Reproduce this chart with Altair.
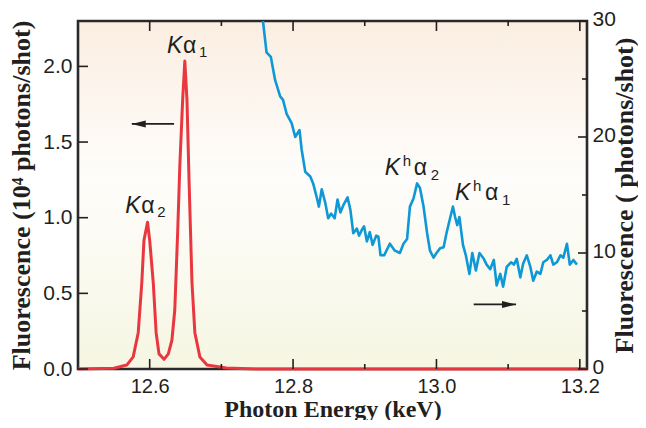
import altair as alt
import pandas as pd

# ---------------- data ----------------
RED_E = [12.50, 12.55, 12.568, 12.577, 12.584, 12.589, 12.592, 12.597, 12.600, 12.605,
         12.609, 12.613, 12.620, 12.626, 12.631, 12.635, 12.639, 12.642, 12.646, 12.649,
         12.652, 12.655, 12.659, 12.663, 12.670, 12.680, 12.707, 12.75, 13.21]
RED_F = [0.0, 0.005, 0.026, 0.08, 0.24, 0.57, 0.85, 0.97, 0.85, 0.57,
         0.24, 0.10, 0.064, 0.10, 0.19, 0.39, 0.90, 1.34, 1.78, 2.035,
         1.78, 1.23, 0.57, 0.24, 0.08, 0.026, 0.007, 0.0, 0.0]

BLUE_E = [12.758, 12.763, 12.769, 12.775, 12.782, 12.786, 12.791, 12.798, 12.803, 12.809,
          12.812, 12.817, 12.824, 12.828, 12.833, 12.836, 12.840, 12.845, 12.849, 12.853,
          12.858, 12.862, 12.866, 12.870, 12.876, 12.880, 12.884, 12.889, 12.892, 12.896,
          12.899, 12.903, 12.907, 12.911, 12.916, 12.919, 12.922, 12.927, 12.935, 12.942,
          12.949, 12.954, 12.959, 12.963, 12.968, 12.973, 12.977, 12.982, 12.987, 12.991,
          12.996, 13.000, 13.005, 13.010, 13.014, 13.019, 13.023, 13.026, 13.029, 13.032,
          13.037, 13.041, 13.046, 13.050, 13.055, 13.060, 13.066, 13.070, 13.075, 13.080,
          13.084, 13.089, 13.093, 13.098, 13.104, 13.108, 13.112, 13.117, 13.121, 13.126,
          13.131, 13.135, 13.140, 13.145, 13.149, 13.154, 13.159, 13.163, 13.168, 13.173,
          13.177, 13.182, 13.186, 13.191, 13.196]
BLUE_F = [30.0, 27.3, 26.9, 24.9, 23.5, 23.2, 22.0, 21.2, 20.0, 20.6,
          18.9, 17.0, 16.6, 16.0, 14.8, 14.0, 15.5, 14.3, 13.0, 13.4,
          13.0, 14.6, 13.5, 14.1, 14.8, 13.7, 11.7, 12.1, 11.5, 12.0,
          12.3, 11.0, 11.8, 10.7, 11.5, 11.4, 9.8, 9.8, 10.8, 10.2,
          10.0, 10.8, 11.2, 14.0, 14.7, 16.0, 15.6, 14.0, 11.7, 10.2,
          9.6, 10.0, 10.4, 10.5, 11.7, 13.0, 14.0, 13.1, 12.4, 13.1,
          10.7, 9.8, 8.2, 10.0, 8.5, 10.0, 9.5, 9.0, 8.6, 9.4,
          7.2, 8.2, 7.1, 8.8, 9.2, 9.0, 9.5, 7.9, 9.1, 9.8,
          8.8, 7.6, 8.4, 8.2, 9.2, 9.4, 9.8, 9.0, 9.2, 9.8,
          9.6, 10.8, 9.0, 9.4, 9.0]

X_DOMAIN = [12.5, 13.21]
YL_DOMAIN = [0, 2.3]
YR_DOMAIN = [0, 30]
X_LABELS = [12.6, 12.8, 13.0, 13.2]
X_MINOR = [12.7, 12.9, 13.1]
YL_TICKS = [0.0, 0.5, 1.0, 1.5, 2.0]
YR_LABELS = [0, 10, 20, 30]
YR_MINOR = [5, 15, 25]

# annotation anchors (energy, value)
KA1_POS = (12.624, 2.09)
KA2_POS = (12.566, 1.03)
KHA2_POS = (12.928, 16.7)
KHA1_POS = (13.026, 14.56)
ARROW_L = (12.634, 12.575, 1.62)   # from, to (tip), y (left units)
ARROW_R = (13.052, 13.111, 5.57)   # from, to (tip), y (right units)

# ---------------- style ----------------
W, H = 509, 348
INK = "#231f20"
RED = "#e9373f"
BLUE = "#0f98d6"
SANS = "Liberation Sans"
SERIF = "Liberation Serif"

xs = alt.Scale(domain=X_DOMAIN, nice=False, zero=False)
yls = alt.Scale(domain=YL_DOMAIN, nice=False, zero=False)
yrs = alt.Scale(domain=YR_DOMAIN, nice=False, zero=False)

X_AXIS = alt.Axis(
    orient="bottom", values=X_LABELS, format=".1f", ticks=False, domain=False, grid=False,
    labelFont=SANS, labelFontSize=20, labelColor=INK, labelPadding=7,
    title="Photon Energy (keV)", titleFont=SERIF, titleFontSize=24, titleFontWeight="bold",
    titleColor=INK, titleBaseline="alphabetic", titleX=W / 2, titleY=47)
YL_AXIS = alt.Axis(
    orient="left", values=YL_TICKS, format=".1f", ticks=False, domain=False, grid=False,
    labelFont=SANS, labelFontSize=21, labelColor=INK, labelPadding=6,
    title="Fluorescence (10⁴ photons/shot)", titleFont=SERIF, titleFontSize=26,
    titleFontWeight="bold", titleColor=INK, titlePadding=8)
YR_AXIS = alt.Axis(
    orient="right", values=YR_LABELS, format="d", ticks=False, domain=False, grid=False,
    labelFont=SANS, labelFontSize=21, labelColor=INK, labelPadding=5, labelOffset=-2,
    title="Fluorescence ( photons/shot)", titleFont=SERIF, titleFontSize=26,
    titleFontWeight="bold", titleColor=INK, titleAngle=270, titleBaseline="alphabetic",
    titleX=45, titleY=H / 2)


def X(field):
    return alt.X(field, scale=xs, axis=X_AXIS)


red_df = pd.DataFrame({"e": RED_E, "f": RED_F})
blue_df = pd.DataFrame({"e": BLUE_E, "f": BLUE_F})

bg = alt.Chart(pd.DataFrame({"a": [0]})).mark_rect(
    color=alt.Gradient(
        gradient="linear",
        stops=[alt.GradientStop(color="#fbeee1", offset=0),
               alt.GradientStop(color="#fefdfb", offset=0.45),
               alt.GradientStop(color="#f6f6e3", offset=1)],
        x1=0, x2=0, y1=0, y2=1),
).encode(x=alt.value(0), x2=alt.value(W), y=alt.value(0), y2=alt.value(H))

frame = alt.Chart(pd.DataFrame({"a": [0]})).mark_rect(
    filled=False, stroke="#2a2a2a", strokeWidth=2.6
).encode(x=alt.value(0), x2=alt.value(W), y=alt.value(0), y2=alt.value(H))

red = alt.Chart(red_df).mark_line(color=RED, strokeWidth=3, strokeJoin="round").encode(
    x=X("e:Q"), y=alt.Y("f:Q", scale=yls, axis=YL_AXIS), order="e:Q")

blue = alt.Chart(blue_df).mark_line(color=BLUE, strokeWidth=2.6, strokeJoin="round").encode(
    x=X("e:Q"), y=alt.Y("f:Q", scale=yrs, axis=YR_AXIS), order="e:Q")


def xticks(vals, length):
    d = pd.DataFrame({"v": vals})
    bottom = alt.Chart(d).mark_rule(color=INK, strokeWidth=1.6).encode(
        x=X("v:Q"), y=alt.value(H), y2=alt.value(H - length))
    top = alt.Chart(d).mark_rule(color=INK, strokeWidth=1.6).encode(
        x=X("v:Q"), y=alt.value(0), y2=alt.value(length))
    return [bottom, top]


def yticks(vals, scale, axis, length, right=False):
    d = pd.DataFrame({"v": vals})
    x0, x1 = (W, W - length) if right else (0, length)
    return alt.Chart(d).mark_rule(color=INK, strokeWidth=1.6).encode(
        y=alt.Y("v:Q", scale=scale, axis=axis), x=alt.value(x0), x2=alt.value(x1))


def label(pos, scale, axis, pieces):
    d = pd.DataFrame({"e": [pos[0]], "f": [pos[1]]})
    out = []
    for text, dx, dy, size, style in pieces:
        out.append(alt.Chart(d).mark_text(
            text=text, dx=dx, dy=dy, fontSize=size, fontStyle=style, font=SANS,
            align="left", baseline="alphabetic", color=INK,
        ).encode(x=X("e:Q"), y=alt.Y("f:Q", scale=scale, axis=axis)))
    return out


KA_PIECES_1 = [("K", 0, 0, 23, "italic"), ("α", 16, 0, 23, "normal"), ("1", 32, 4, 15, "normal")]
KA_PIECES_2 = [("K", 0, 0, 23, "italic"), ("α", 16, 0, 23, "normal"), ("2", 32, 4, 15, "normal")]
KH_PIECES_2 = [("K", 0, 0, 23, "italic"), ("h", 18, -9, 15, "normal"),
               ("α", 29, 0, 23, "normal"), ("2", 46, 5, 15, "normal")]
KH_PIECES_1 = [("K", 0, 0, 23, "italic"), ("h", 18, -9, 15, "normal"),
               ("α", 30, 0, 23, "normal"), ("1", 47, 5, 15, "normal")]


def arrow(spec, scale, axis, head_path):
    d = pd.DataFrame({"a": [spec[0]], "b": [spec[1]], "y": [spec[2]]})
    shaft = alt.Chart(d).mark_rule(color=INK, strokeWidth=1.8).encode(
        x=X("a:Q"), x2="b:Q", y=alt.Y("y:Q", scale=scale, axis=axis))
    head = alt.Chart(d).mark_point(shape=head_path, filled=True, size=196, color=INK,
                                   opacity=1, strokeWidth=0).encode(
        x=X("b:Q"), y=alt.Y("y:Q", scale=scale, axis=axis))
    return [shaft, head]


left_layers = [red]
left_layers += xticks(X_LABELS, 10) + xticks(X_MINOR, 5)
left_layers += [yticks(YL_TICKS, yls, YL_AXIS, 10)]
left_layers += label(KA1_POS, yls, YL_AXIS, KA_PIECES_1) + label(KA2_POS, yls, YL_AXIS, KA_PIECES_2)
left_layers += arrow(ARROW_L, yls, YL_AXIS, "M0,0 L2,-0.5 L2,0.5 Z")

right_layers = [blue]
right_layers += [yticks(YR_LABELS, yrs, YR_AXIS, 9, right=True),
                 yticks(YR_MINOR, yrs, YR_AXIS, 5, right=True)]
right_layers += label(KHA2_POS, yrs, YR_AXIS, KH_PIECES_2) + label(KHA1_POS, yrs, YR_AXIS, KH_PIECES_1)
right_layers += arrow(ARROW_R, yrs, YR_AXIS, "M0,0 L-2,-0.5 L-2,0.5 Z")

left_group = alt.layer(*left_layers)
right_group = alt.layer(*right_layers)

chart = alt.layer(bg, frame, left_group, right_group).resolve_scale(
    y="independent").resolve_axis(y="independent").properties(
    width=W, height=H,
    autosize=alt.AutoSizeParams(type="none"),
    padding={"left": 70, "top": 13, "right": 51, "bottom": 51},
    background="white",
).configure_view(stroke=None)

chart.save("out.html", embed_options={"renderer": "svg", "actions": False})
